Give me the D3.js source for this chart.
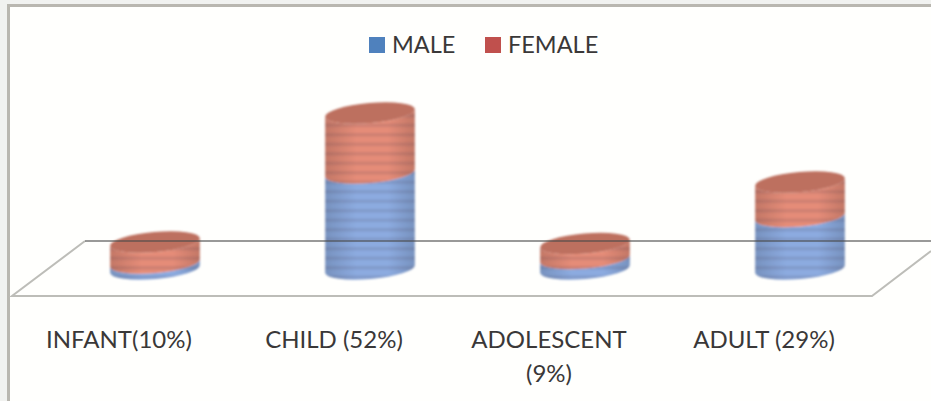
<!DOCTYPE html>
<html>
<head>
<meta charset="utf-8">
<script src="https://cdn.jsdelivr.net/npm/d3@7"></script>
<style>
  html, body { margin: 0; padding: 0; background: #f1f2f0; }
  text { font-family: Lato, "Open Sans", sans-serif; fill: #3a3838; }
</style>
</head>
<body>
<div id="chart"></div>
<script>
// Data.
const categories = ['INFANT(10%)', 'CHILD (52%)', 'ADOLESCENT (9%)', 'ADULT (29%)'];
const male = [2, 32, 3.5, 17.5];
const female = [7, 20, 5, 11.5];
const seriesNames = ['MALE', 'FEMALE'];

const width = 931;
const height = 401;
const rx = 45;
const ry = 10;
const tilt = 5; // ellipse tilt, degrees

const colors = { MALE: '#8cabe0', FEMALE: '#e58c78' };
const tops = { MALE: '#8cabe0', FEMALE: '#bd6f5e' };
const swatches = { MALE: '#4f81bd', FEMALE: '#c0504d' };

const svg = d3.select('#chart').append('svg')
  .attr('width', width)
  .attr('height', height)
  .style('display', 'block');

const defs = svg.append('defs');

defs.append('filter').attr('id', 'soft')
  .append('feGaussianBlur').attr('stdDeviation', 1.2);

// Shading across the cylinder and the banding of the source.
seriesNames.forEach(name => {
  const grad = defs.append('linearGradient').attr('id', 'side-' + name);
  const c = d3.color(colors[name]);
  grad.append('stop').attr('offset', '0%').attr('stop-color', c.darker(0.45));
  grad.append('stop').attr('offset', '35%').attr('stop-color', c);
  grad.append('stop').attr('offset', '70%').attr('stop-color', c);
  grad.append('stop').attr('offset', '100%').attr('stop-color', c.darker(0.45));
});

const bands = defs.append('pattern')
  .attr('id', 'bands')
  .attr('patternUnits', 'userSpaceOnUse')
  .attr('width', 10)
  .attr('height', 9.5);
bands.append('rect')
  .attr('width', 10)
  .attr('height', 3.5)
  .attr('fill', '#4a3a50')
  .attr('opacity', 0.14);

// Scales.
const x = d3.scaleBand()
  .domain(categories)
  .range([47.5, 907.5]);

const y = d3.scaleLinear()
  .domain([0, 52])
  .range([269, 113]);

const stacked = d3.stack().keys(seriesNames)(
  categories.map((c, i) => ({ name: c, MALE: male[i], FEMALE: female[i] }))
);

// Frame.
svg.append('rect')
  .attr('x', 8.5)
  .attr('y', 5.5)
  .attr('width', width)
  .attr('height', height)
  .attr('fill', '#fffffd')
  .attr('stroke', '#b9b7b0')
  .attr('stroke-width', 3);

// Floor.
const floor = svg.append('g').attr('fill', 'none');
floor.append('path')
  .attr('d', d3.line()([[931, 251], [872, 296], [12, 296], [85, 241]]))
  .attr('stroke', '#bdbdb8')
  .attr('stroke-width', 2);

// Cylinders.
const dx = rx * Math.cos(tilt * Math.PI / 180);
const dy = rx * Math.sin(tilt * Math.PI / 180);

function sidePath(cx, y0, y1) {
  return `M${cx - dx},${y1 + dy}` +
    `L${cx - dx},${y0 + dy}` +
    `A${rx},${ry} ${-tilt} 0 0 ${cx + dx},${y0 - dy}` +
    `L${cx + dx},${y1 - dy}` +
    `A${rx},${ry} ${-tilt} 0 1 ${cx - dx},${y1 + dy}Z`;
}

const bars = svg.append('g').attr('filter', 'url(#soft)');

stacked.forEach(series => {
  const g = bars.append('g');
  series.forEach(d => {
    const cx = x(d.data.name) + x.bandwidth() / 2;
    g.append('path')
      .attr('d', sidePath(cx, y(d[0]), y(d[1])))
      .attr('fill', `url(#side-${series.key})`);
    g.append('path')
      .attr('d', sidePath(cx, y(d[0]), y(d[1])))
      .attr('fill', 'url(#bands)');
  });
});

// Lids on the top of each stack.
const last = stacked[stacked.length - 1];
bars.append('g').selectAll('ellipse')
  .data(last)
  .join('ellipse')
  .attr('rx', rx)
  .attr('ry', ry)
  .attr('fill', tops.FEMALE)
  .attr('transform', d =>
    `translate(${x(d.data.name) + x.bandwidth() / 2},${y(d[1])}) rotate(${-tilt})`);

// Back wall line shows through the bars.
svg.append('line')
  .attr('x1', 85)
  .attr('x2', 931)
  .attr('y1', 241)
  .attr('y2', 241)
  .attr('stroke', '#4a4a4a')
  .attr('stroke-opacity', 0.75)
  .attr('stroke-width', 1.5);

// Category labels.
const labelOffset = -36;
const labels = svg.append('g')
  .attr('text-anchor', 'middle')
  .attr('font-size', 24);

labels.selectAll('text')
  .data(categories)
  .join('text')
  .attr('x', d => x(d) + x.bandwidth() / 2 + labelOffset)
  .attr('y', 348)
  .each(function(d) {
    // Only the long label wraps.
    const parts = d.startsWith('ADOLESCENT') ? d.split(' ') : [d];
    const el = d3.select(this);
    const px = el.attr('x');
    parts.forEach((p, i) => {
      el.append('tspan').attr('x', px).attr('dy', i ? 34 : 0).text(p);
    });
  });

// Legend.
const legendX = d3.scaleOrdinal().domain(seriesNames).range([369, 485]);
const legend = svg.append('g').selectAll('g')
  .data(seriesNames)
  .join('g')
  .attr('transform', d => `translate(${legendX(d)},37)`);

legend.append('rect')
  .attr('width', 16)
  .attr('height', 16)
  .attr('fill', d => swatches[d]);

legend.append('text')
  .attr('x', 23)
  .attr('y', 16)
  .attr('font-size', 23.5)
  .text(d => d);
</script>
</body>
</html>
